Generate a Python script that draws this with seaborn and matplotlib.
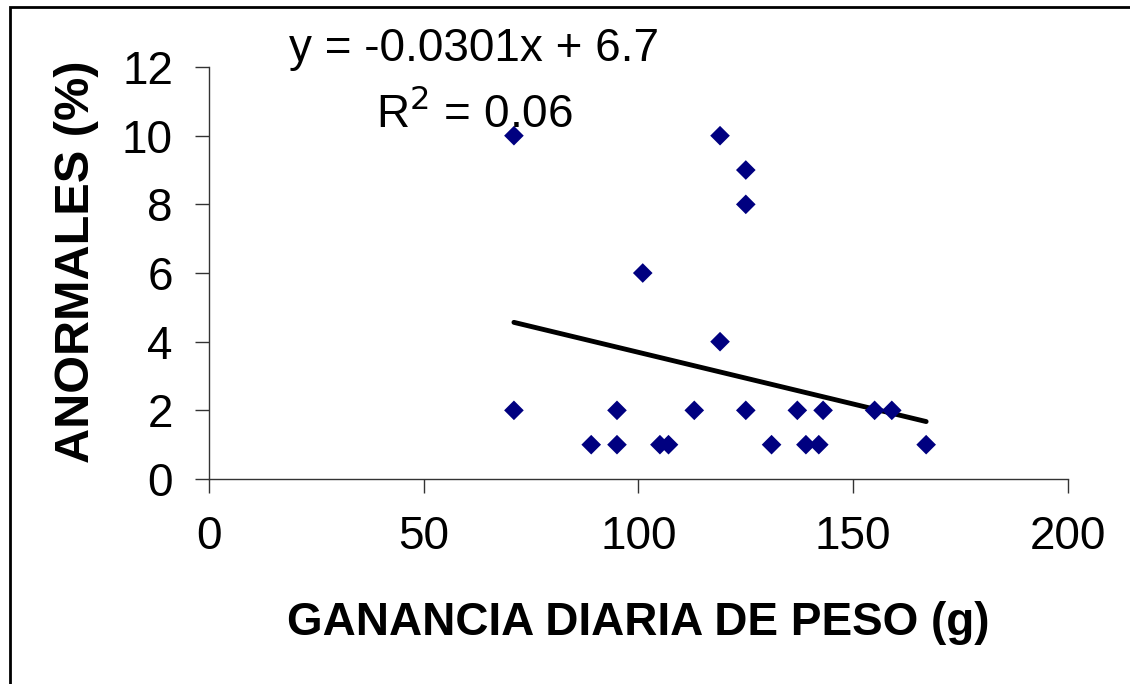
import numpy as np
import pandas as pd
import matplotlib
matplotlib.use('Agg')
import matplotlib.pyplot as plt
import seaborn as sns
from matplotlib.patches import Rectangle

# datos
ganancia = [71, 71, 119, 125, 125, 101, 119, 89, 95, 95, 105, 107, 113, 125,
            131, 137, 139, 142, 143, 155, 159, 167]
anormales = [10, 2, 10, 9, 8, 6, 4, 1, 2, 1, 1, 1, 2, 2,
             1, 2, 1, 1, 2, 2, 2, 1]

# recta de tendencia (ecuacion del grafico)
pendiente = -0.0301
intercepto = 6.7
r2 = 0.06

df = pd.DataFrame({'ganancia': ganancia, 'anormales': anormales})

sns.set_style('ticks')
plt.rcParams['font.family'] = ['Liberation Sans', 'DejaVu Sans']
plt.rcParams['text.color'] = 'black'
plt.rcParams['axes.labelcolor'] = 'black'
plt.rcParams['xtick.color'] = 'black'
plt.rcParams['ytick.color'] = 'black'

fig = plt.figure(figsize=(11.3, 6.84), dpi=100)
ax = fig.add_axes([0.185, 0.2997, 0.760, 0.6023])

sns.scatterplot(data=df, x='ganancia', y='anormales', marker='D', s=100,
                color='#000080', edgecolor='none', ax=ax, zorder=3)

# linea de tendencia
xs = np.array([min(ganancia), max(ganancia)])
ax.plot(xs, pendiente * xs + intercepto, color='black', lw=3.5, zorder=2)

ax.set_xlim(0, 200)
ax.set_ylim(0, 12)
ax.set_xticks([0, 50, 100, 150, 200])
ax.set_yticks([0, 2, 4, 6, 8, 10, 12])
ax.tick_params(labelsize=33, length=10, width=1, color='#333333')
ax.tick_params(axis='x', pad=16)
ax.tick_params(axis='y', pad=16)
ax.set_xlabel('GANANCIA DIARIA DE PESO (g)', fontsize=33, fontweight='bold', labelpad=30)
ax.set_ylabel('ANORMALES (%)', fontsize=35, fontweight='bold')
ax.yaxis.set_label_coords(-0.128, 0.528)
sns.despine(ax=ax)
for sp in ['left', 'bottom']:
    ax.spines[sp].set_color('#333333')
    ax.spines[sp].set_linewidth(1)

# ecuacion y R2
fig.text(0.256, 0.928, 'y = -0.0301x + 6.7', fontsize=33, va='center')
fig.text(0.333, 0.833, 'R$^2$ = %.2f' % r2, fontsize=33, va='center')

# marco del grafico
fig.patches.append(Rectangle((0.009, -0.1), 1.2, 1.09, transform=fig.transFigure,
                             fill=False, edgecolor='black', lw=2))

fig.savefig('out.png', dpi=100)
